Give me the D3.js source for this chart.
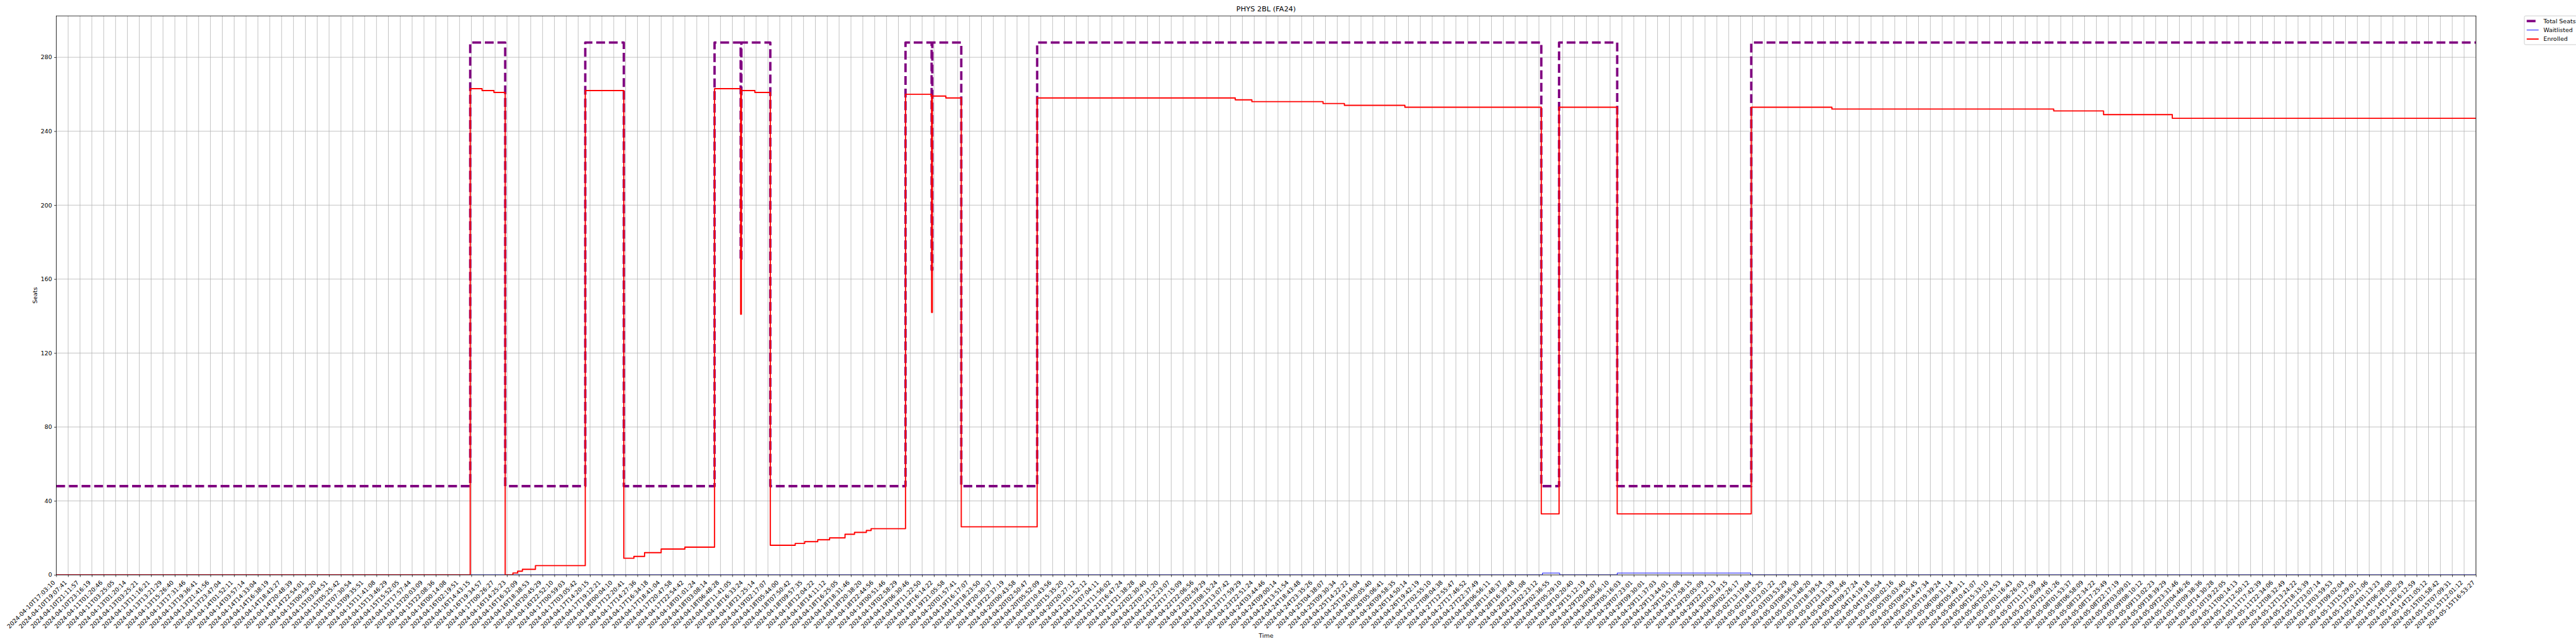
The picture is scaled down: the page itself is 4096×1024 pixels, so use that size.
<!DOCTYPE html>
<html>
<head>
<meta charset="utf-8">
<script src="https://cdn.jsdelivr.net/npm/d3@7"></script>
<style>
  html, body { margin: 0; padding: 0; background: #ffffff; }
  svg { display: block; }
  text { font-family: "DejaVu Sans", sans-serif; fill: #000; }
</style>
</head>
<body>
<svg id="chart" width="4096" height="1024" viewBox="0 0 6000 1500"></svg>
<script>
// ---------------- DATA ----------------
const chartTitle = "PHYS 2BL (FA24)";
const xAxisLabel = "Time";
const yAxisLabel = "Seats";
const seriesNames = ["Total Seats", "Waitlisted", "Enrolled"];

const tickLabels = [
"2024-04-10T17:03:10","2024-04-10T19:07:41","2024-04-10T21:11:57","2024-04-10T23:16:19","2024-04-11T01:20:46",
"2024-04-11T03:25:05","2024-04-13T01:20:14","2024-04-13T03:25:21","2024-04-13T11:16:21","2024-04-13T13:21:29",
"2024-04-13T15:26:40","2024-04-13T17:31:46","2024-04-13T19:36:41","2024-04-13T21:41:56","2024-04-13T23:47:04",
"2024-04-14T01:52:11","2024-04-14T03:57:14","2024-04-14T14:33:04","2024-04-14T16:38:19","2024-04-14T18:43:27",
"2024-04-14T20:48:39","2024-04-14T22:54:01","2024-04-15T00:59:20","2024-04-15T03:04:51","2024-04-15T05:25:42",
"2024-04-15T07:30:54","2024-04-15T09:35:51","2024-04-15T11:41:08","2024-04-15T13:46:29","2024-04-15T15:52:05",
"2024-04-15T17:57:44","2024-04-15T20:03:09","2024-04-15T22:08:36","2024-04-16T00:14:08","2024-04-16T02:19:51",
"2024-04-16T14:43:15","2024-04-16T19:34:57","2024-04-17T00:26:27","2024-04-16T14:25:23","2024-04-16T16:32:09",
"2024-04-16T18:38:53","2024-04-16T20:45:29","2024-04-16T22:52:10","2024-04-17T00:59:03","2024-04-17T03:05:42",
"2024-04-17T14:20:15","2024-04-17T19:12:21","2024-04-18T00:04:10","2024-04-17T12:20:41","2024-04-17T14:27:36",
"2024-04-17T16:34:18","2024-04-17T18:41:04","2024-04-17T20:47:58","2024-04-17T22:54:42","2024-04-18T01:01:24",
"2024-04-18T03:08:14","2024-04-18T06:48:28","2024-04-18T11:41:05","2024-04-18T16:33:24","2024-04-18T21:25:14",
"2024-04-19T02:17:07","2024-04-18T05:44:00","2024-04-18T07:50:42","2024-04-18T09:57:35","2024-04-18T12:04:22",
"2024-04-18T14:11:12","2024-04-18T16:25:05","2024-04-18T18:31:46","2024-04-18T20:38:20","2024-04-18T22:44:56",
"2024-04-19T00:51:46","2024-04-19T02:58:29","2024-04-19T06:30:46","2024-04-19T11:22:50","2024-04-19T16:14:22",
"2024-04-19T21:05:58","2024-04-20T01:57:41","2024-04-19T16:17:07","2024-04-19T18:23:50","2024-04-19T20:30:37",
"2024-04-19T22:37:19","2024-04-20T00:43:58","2024-04-20T02:50:47","2024-04-20T05:52:09","2024-04-20T10:43:56",
"2024-04-20T15:35:20","2024-04-20T20:27:12","2024-04-21T01:52:12","2024-04-21T07:04:11","2024-04-21T11:56:02",
"2024-04-21T16:47:24","2024-04-21T21:38:28","2024-04-22T02:30:40","2024-04-22T07:31:20","2024-04-22T12:23:07",
"2024-04-22T17:15:09","2024-04-22T22:06:56","2024-04-23T02:59:29","2024-04-23T08:15:24","2024-04-23T13:07:42",
"2024-04-23T17:59:29","2024-04-23T22:51:24","2024-04-24T03:44:46","2024-04-24T09:00:14","2024-04-24T13:51:54",
"2024-04-24T18:43:48","2024-04-24T23:35:26","2024-04-25T04:38:07","2024-04-25T09:30:34","2024-04-25T14:22:22",
"2024-04-25T19:14:04","2024-04-26T00:05:40","2024-04-26T05:06:41","2024-04-26T09:58:35","2024-04-26T14:50:14",
"2024-04-26T19:42:19","2024-04-27T02:55:10","2024-04-27T08:04:38","2024-04-27T12:55:47","2024-04-27T17:46:52",
"2024-04-27T22:37:49","2024-04-28T06:56:11","2024-04-28T11:48:37","2024-04-28T16:39:48","2024-04-28T21:31:08",
"2024-04-29T02:23:12","2024-04-29T02:36:55","2024-04-29T05:29:10","2024-04-29T10:20:40","2024-04-29T15:12:19",
"2024-04-29T20:04:07","2024-04-30T00:56:10","2024-04-29T05:16:03","2024-04-29T07:23:01","2024-04-29T09:30:01",
"2024-04-29T11:37:03","2024-04-29T13:44:01","2024-04-29T15:51:08","2024-04-29T17:58:15","2024-04-29T20:05:09",
"2024-04-29T22:12:13","2024-04-30T00:19:15","2024-04-30T02:26:17","2024-05-02T13:19:04","2024-05-02T18:10:25",
"2024-05-02T23:01:22","2024-05-03T03:53:29","2024-05-03T08:56:30","2024-05-03T13:48:20","2024-05-03T18:39:54",
"2024-05-03T23:31:39","2024-05-04T04:33:46","2024-05-04T09:27:24","2024-05-04T14:19:18","2024-05-04T19:10:54",
"2024-05-05T00:02:16","2024-05-05T05:03:40","2024-05-05T09:55:45","2024-05-05T14:47:34","2024-05-05T19:39:24",
"2024-05-06T00:31:14","2024-05-06T05:49:11","2024-05-06T10:41:07","2024-05-06T15:33:10","2024-05-06T20:24:53",
"2024-05-07T01:16:43","2024-05-07T06:26:03","2024-05-07T11:17:59","2024-05-07T16:09:46","2024-05-07T21:01:26",
"2024-05-08T01:53:37","2024-05-08T06:58:09","2024-05-08T12:34:22","2024-05-08T17:25:49","2024-05-08T22:17:19",
"2024-05-09T03:09:01","2024-05-09T08:10:12","2024-05-09T13:02:23","2024-05-09T18:39:29","2024-05-09T23:31:46",
"2024-05-10T04:46:26","2024-05-10T09:38:36","2024-05-10T14:30:28","2024-05-10T19:22:05","2024-05-11T00:14:13",
"2024-05-11T12:50:12","2024-05-11T17:42:39","2024-05-11T22:34:06","2024-05-12T08:32:49","2024-05-12T13:24:22",
"2024-05-12T18:15:39","2024-05-12T23:07:14","2024-05-13T03:59:53","2024-05-13T09:02:04","2024-05-13T15:29:01",
"2024-05-13T20:21:06","2024-05-14T01:13:23","2024-05-14T06:28:00","2024-05-14T11:20:29","2024-05-14T16:12:59",
"2024-05-14T21:05:12","2024-05-15T01:58:42","2024-05-15T07:09:31","2024-05-15T12:01:12","2024-05-15T16:53:27"
];

const yTickValues = [0, 40, 80, 120, 160, 200, 240, 280];

// Series given as change points: position (in tick-label index units) and value held from there on.
const totalSeatsPos = [0, 34.9, 37.85, 44.6, 47.85, 55.5, 57.7, 57.76, 60.2, 71.6, 73.8, 73.86, 76.3, 82.7, 125.2, 126.7, 131.6, 142.9, 204];
const totalSeatsVal = [48, 288, 48, 288, 48, 288, 170, 288, 48, 288, 165, 288, 48, 288, 48, 288, 48, 288, 288];

const waitlistedPos = [0, 125.3, 126.75, 131.6, 142.85, 204];
const waitlistedVal = [0, 1, 0, 1, 0, 0];

const enrolledPos = [0, 34.9, 35.9, 36.9, 37.85, 38.5, 38.9, 39.3, 40.4, 44.6, 47.85, 48.7, 49.6, 51.0, 53.0,
  55.5, 57.7, 57.76, 58.9, 60.2, 62.3, 63.1, 64.2, 65.2, 66.5, 67.3, 68.3, 68.7,
  71.6, 73.8, 73.86, 75.0, 76.3, 82.7, 99.4, 100.8, 106.8, 108.6, 113.7, 125.2, 126.7, 131.6, 142.9,
  149.7, 168.4, 172.6, 178.4, 204];
const enrolledVal = [0, 263, 262, 261, 0, 1, 2, 3, 5, 262, 9, 10, 12, 14, 15,
  263, 141, 262, 261, 16, 17, 18, 19, 20, 22, 23, 24, 25,
  260, 142, 259, 258, 26, 258, 257, 256, 255, 254, 253, 33, 253, 33, 253,
  252, 251, 249, 247, 247];

// ---------------- LAYOUT (reference pixel space 6000x1500) ----------------
const W = 6000, H = 1500;
const plot = { left: 131, right: 5767, top: 37, bottom: 1339 };
const PT = 100 / 72;           // 1pt in px at 100 dpi
const FS = 10 * PT;            // tick / label font size
const TICK = 3.5 * PT, PAD = 3.5 * PT;

const svg = d3.select("#chart");
svg.append("rect").attr("width", W).attr("height", H).attr("fill", "#fff");

const x = d3.scaleLinear().domain([0, tickLabels.length - 1]).range([plot.left, plot.right]);
const y = d3.scaleLinear().domain([0, 288 * 1.05]).range([plot.bottom, plot.top]);

// grid
const grid = svg.append("g").attr("class", "grid");
grid.selectAll("line.gx").data(d3.range(tickLabels.length)).join("line")
  .attr("x1", d => x(d)).attr("x2", d => x(d))
  .attr("y1", plot.top).attr("y2", plot.bottom)
  .attr("stroke", "#b0b0b0").attr("stroke-width", 0.8 * PT);
grid.selectAll("line.gy").data(yTickValues).join("line")
  .attr("x1", plot.left).attr("x2", plot.right)
  .attr("y1", d => y(d)).attr("y2", d => y(d))
  .attr("stroke", "#b0b0b0").attr("stroke-width", 0.8 * PT);

// clip
svg.append("clipPath").attr("id", "plotclip").append("rect")
  .attr("x", plot.left).attr("y", plot.top)
  .attr("width", plot.right - plot.left).attr("height", plot.bottom - plot.top);

const mkPts = (p, v) => p.map((d, i) => [d, v[i]]);
const line = d3.line().x(d => x(d[0])).y(d => y(d[1])).curve(d3.curveStepAfter);

const lines = svg.append("g").attr("clip-path", "url(#plotclip)");
lines.append("path").datum(mkPts(totalSeatsPos, totalSeatsVal))
  .attr("d", line).attr("fill", "none").attr("stroke", "#800080")
  .attr("stroke-width", 4 * PT).attr("stroke-dasharray", `${3.7 * 4 * PT},${1.6 * 4 * PT}`)
  .attr("stroke-linejoin", "round");
lines.append("path").datum(mkPts(waitlistedPos, waitlistedVal))
  .attr("d", line).attr("fill", "none").attr("stroke", "#0000ff")
  .attr("stroke-width", 1 * PT).attr("stroke-linejoin", "round");
lines.append("path").datum(mkPts(enrolledPos, enrolledVal))
  .attr("d", line).attr("fill", "none").attr("stroke", "#ff0000")
  .attr("stroke-width", 2 * PT).attr("stroke-linejoin", "round");

// spines
svg.append("rect").attr("x", plot.left).attr("y", plot.top)
  .attr("width", plot.right - plot.left).attr("height", plot.bottom - plot.top)
  .attr("fill", "none").attr("stroke", "#000").attr("stroke-width", 0.8 * PT);

// x axis
const xAxis = d3.axisBottom(x)
  .tickValues(d3.range(tickLabels.length))
  .tickFormat(i => tickLabels[i])
  .tickSize(TICK).tickPadding(PAD);
const gx = svg.append("g").attr("transform", `translate(0,${plot.bottom})`).call(xAxis);
gx.select(".domain").remove();
gx.selectAll(".tick line").attr("stroke", "#000").attr("stroke-width", 0.8 * PT);
gx.selectAll(".tick text")
  .attr("font-size", FS).attr("font-family", "DejaVu Sans, sans-serif")
  .attr("text-anchor", "end").attr("x", 0).attr("y", 0).attr("dy", 0)
  .attr("transform", `translate(-2.3,${TICK + PAD + 9.1}) rotate(-45)`);

// y axis
const yAxis = d3.axisLeft(y).tickValues(yTickValues).tickSize(TICK).tickPadding(PAD);
const gy = svg.append("g").attr("transform", `translate(${plot.left},0)`).call(yAxis);
gy.select(".domain").remove();
gy.selectAll(".tick line").attr("stroke", "#000").attr("stroke-width", 0.8 * PT);
gy.selectAll(".tick text").attr("font-size", FS).attr("font-family", "DejaVu Sans, sans-serif");

// title and axis labels
const cx = (plot.left + plot.right) / 2;
svg.append("text").attr("x", cx).attr("y", plot.top - 6 * PT - 2)
  .attr("text-anchor", "middle").attr("font-size", 12 * PT).text(chartTitle);
svg.append("text").attr("x", cx).attr("y", 1486)
  .attr("text-anchor", "middle").attr("font-size", FS).text(xAxisLabel);
svg.append("text").attr("transform", `translate(86,${(plot.top + plot.bottom) / 2}) rotate(-90)`)
  .attr("text-anchor", "middle").attr("font-size", FS).text(yAxisLabel);

// legend
const lg = svg.append("g").attr("transform", `translate(${plot.right + 0.02 * (plot.right - plot.left)},${plot.top})`);
lg.append("rect").attr("x", 0).attr("y", 0).attr("width", 160).attr("height", 67)
  .attr("rx", 3).attr("fill", "#fff").attr("fill-opacity", 0.8)
  .attr("stroke", "#cccccc").attr("stroke-width", 1 * PT);
const legendStyles = [
  { color: "#800080", width: 4 * PT, dash: `${3.7 * 4 * PT},${1.6 * 4 * PT}` },
  { color: "#0000ff", width: 1 * PT, dash: null },
  { color: "#ff0000", width: 2 * PT, dash: null }
];
seriesNames.forEach((name, i) => {
  const rowY = 12 + i * 21;
  lg.append("line").attr("x1", 5.5).attr("x2", 5.5 + 2 * FS).attr("y1", rowY).attr("y2", rowY)
    .attr("stroke", legendStyles[i].color).attr("stroke-width", legendStyles[i].width)
    .attr("stroke-dasharray", legendStyles[i].dash);
  lg.append("text").attr("x", 5.5 + 2 * FS + 0.8 * FS).attr("y", rowY).attr("dy", "0.35em")
    .attr("font-size", FS).text(name);
});
</script>
</body>
</html>
